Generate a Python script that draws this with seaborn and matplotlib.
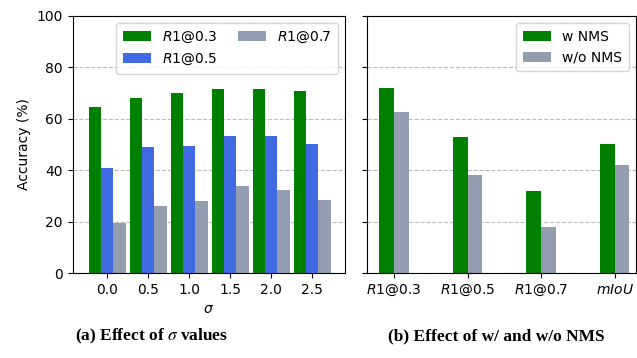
import numpy as np
import matplotlib
matplotlib.use("Agg")
import matplotlib.pyplot as plt
import seaborn as sns
import pandas as pd

# data: effect of sigma
sigmas = ["0.0", "0.5", "1.0", "1.5", "2.0", "2.5"]
r1_03 = [64.6, 68.0, 70.0, 71.5, 71.5, 70.9]
r1_05 = [40.9, 48.8, 49.5, 53.4, 53.4, 50.3]
r1_07 = [19.3, 25.9, 27.8, 34.0, 32.1, 28.2]
sigma_labels = ["$R1$@0.3", "$R1$@0.5", "$R1$@0.7"]

# data: effect of NMS
metrics = ["$R1$@0.3", "$R1$@0.5", "$R1$@0.7", "$mIoU$"]
w_nms = [71.8, 53.0, 31.8, 50.3]
wo_nms = [62.5, 38.0, 18.0, 41.8]
nms_labels = ["w NMS", "w/o NMS"]

GREEN = "green"
BLUE = "royalblue"
GRAY = "#939db0"

df_a = pd.DataFrame({
    "sigma": sigmas * 3,
    "acc": r1_03 + r1_05 + r1_07,
    "metric": [sigma_labels[0]] * 6 + [sigma_labels[1]] * 6 + [sigma_labels[2]] * 6,
})
df_b = pd.DataFrame({
    "metric": metrics * 2,
    "acc": w_nms + wo_nms,
    "nms": [nms_labels[0]] * 4 + [nms_labels[1]] * 4,
})

plt.rcParams["font.size"] = 10
fig = plt.figure(figsize=(6.37, 3.58), dpi=100)
ax1 = fig.add_axes([0.114, 0.2374, 0.4275, 0.7187])
ax2 = fig.add_axes([0.576, 0.2374, 0.4223, 0.7187])

sns.barplot(data=df_a, x="sigma", y="acc", hue="metric", ax=ax1,
            palette=[GREEN, BLUE, GRAY], width=0.9, saturation=1, linewidth=0)
ax1.set_xlim(-0.84, 5.8)
ax1.set_ylim(0, 100)
ax1.set_xlabel(r"$\sigma$")
ax1.set_ylabel("Accuracy (%)")
ax1.legend(ncol=2, loc="upper right", fontsize=10, borderpad=0.5, columnspacing=1.5)

sns.barplot(data=df_b, x="metric", y="acc", hue="nms", ax=ax2,
            palette=[GREEN, GRAY], width=0.4, saturation=1, linewidth=0)
ax2.set_xlim(-0.37, 3.29)
ax2.set_ylim(0, 100)
ax2.set_xlabel("")
ax2.set_ylabel("")
ax2.legend(loc="upper right", fontsize=10, borderpad=0.5)

for ax in (ax1, ax2):
    ax.set_yticks([0, 20, 40, 60, 80, 100])
    ax.yaxis.grid(True, linestyle="--", color="#bbbbbb", linewidth=0.8)
    ax.set_axisbelow(True)
    ax.tick_params(labelsize=10)
ax2.set_yticklabels([])

fig.text(0.238, 0.06, r"(a) Effect of $\sigma$ values", ha="center", va="center",
         fontsize=12.5, fontweight="bold", family="Liberation Serif",
         math_fontfamily="stix")
fig.text(0.779, 0.06, "(b) Effect of w/ and w/o NMS", ha="center", va="center",
         fontsize=12.5, fontweight="bold", family="Liberation Serif")

plt.savefig("out.png", dpi=100)
